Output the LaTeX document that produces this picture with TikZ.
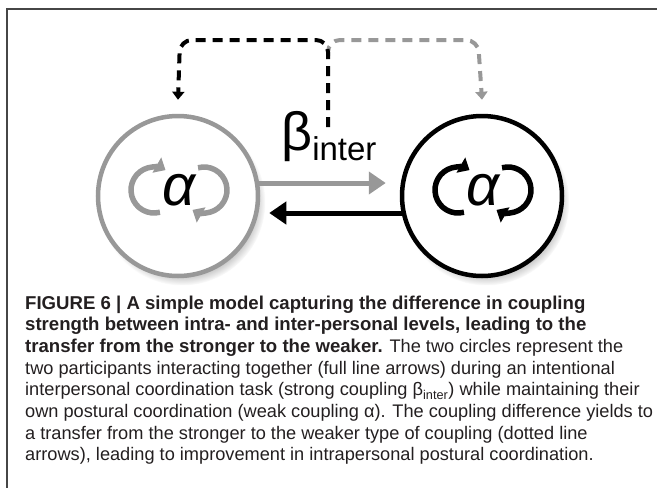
\documentclass[tikz,border=0pt]{standalone}
\usepackage{fontspec}
\setmainfont{Liberation Sans}
\usetikzlibrary{arrows.meta,shadows,calc}
\definecolor{lg}{RGB}{152,152,152}
\definecolor{capc}{RGB}{35,31,32}
\definecolor{framec}{RGB}{70,70,70}
\newcommand{\bfcap}[1]{{\fontsize{18.6}{21}\selectfont\bfseries #1}}
\tikzset{
 ring/.style={circle, line width=4.5pt, minimum size=160pt, fill=white, inner sep=0pt,
   circular drop shadow={shadow xshift=4pt, shadow yshift=-6pt, shadow scale=1.04, opacity=0.55}},
 spin/.style={line width=5.5pt, -{Triangle[length=10pt,width=17pt]}},
 link/.style={line width=5pt, -{Triangle[length=17pt,width=22pt]}},
 dashlink/.style={line width=4pt, dash pattern=on 10pt off 7pt, rounded corners=12pt, -{Triangle[length=8pt,width=12pt]}},
 capline/.style={anchor=base west, inner sep=0pt, font=\fontsize{18.2}{22}\selectfont, text=capc},
 alpha/.style={font=\fontsize{58}{58}\selectfont\itshape, inner sep=0pt},
}
\begin{document}
\begin{tikzpicture}[x=1pt,y=1pt]
\useasboundingbox (0,0) rectangle (657,-488);
\draw[line width=2pt, framec] (7,-488) -- (7,-9) -- (657,-9);

% circles
\node[ring, draw=lg] (L) at (178,-196) {};
\node[ring, draw=black] (R) at (482,-196) {};
\node[alpha] (aL) at (179,-190) {α};
\node[alpha] (aR) at (483,-190) {α};

% rotating arrows
\draw[spin, lg] ($(aL)+(-25,0)+(-75:23)$) arc[start angle=-75, end angle=-300, radius=23];
\draw[spin, lg] ($(aL)+(25,0)+(105:23)$) arc[start angle=105, end angle=-120, radius=23];
\draw[spin, black] ($(aR)+(-25,0)+(-75:23)$) arc[start angle=-75, end angle=-300, radius=23];
\draw[spin, black] ($(aR)+(25,0)+(105:23)$) arc[start angle=105, end angle=-120, radius=23];

% coupling arrows
\draw[link, lg] ($(L.east)+(-2,13)$) -- ($(R.west)+(-14,13)$);
\draw[link, black] ($(R.west)+(2,-17)$) -- ($(L.east)+(9,-17)$);

% beta
\node[inner sep=0pt, anchor=base west] (beta) at (281,-150) {\fontsize{54}{54}\selectfont β\raisebox{-10pt}{\fontsize{33}{33}\selectfont inter}};

% dashed transfer arrows
\coordinate (jb) at (328,-127);
\coordinate (jt) at (328,-40);
\coordinate (ltop) at (180,-40);
\coordinate (rtop) at (478,-40);
\draw[dashlink, lg] ($(jt)+(0,-16)$) -- (jt) -- (rtop) -- ([yshift=14pt]R.north);
\draw[dashlink, black] (jb) -- (jt) -- (ltop) -- ([yshift=14pt]L.north);

% caption
\node[capline] (c1) at (25,-309) {\bfcap{FIGURE 6 | A simple model capturing the difference in coupling}};
\node[capline] (c2) at (25,-330.7) {\bfcap{strength between intra- and inter-personal levels, leading to the}};
\node[capline] (c3) at (25,-352.4) {\bfcap{transfer from the stronger to the weaker.} The two circles represent the};
\node[capline] (c4) at (25,-374.1) {two participants interacting together (full line arrows) during an intentional};
\node[capline] (c5) at (25,-395.8) {interpersonal coordination task (strong coupling β\textsubscript{inter}) while maintaining their};
\node[capline] (c6) at (25,-417.5) {own postural coordination (weak coupling α). The coupling difference yields to};
\node[capline] (c7) at (25,-439.2) {a transfer from the stronger to the weaker type of coupling (dotted line};
\node[capline] (c8) at (25,-460.9) {arrows), leading to improvement in intrapersonal postural coordination.};
\end{tikzpicture}
\end{document}
